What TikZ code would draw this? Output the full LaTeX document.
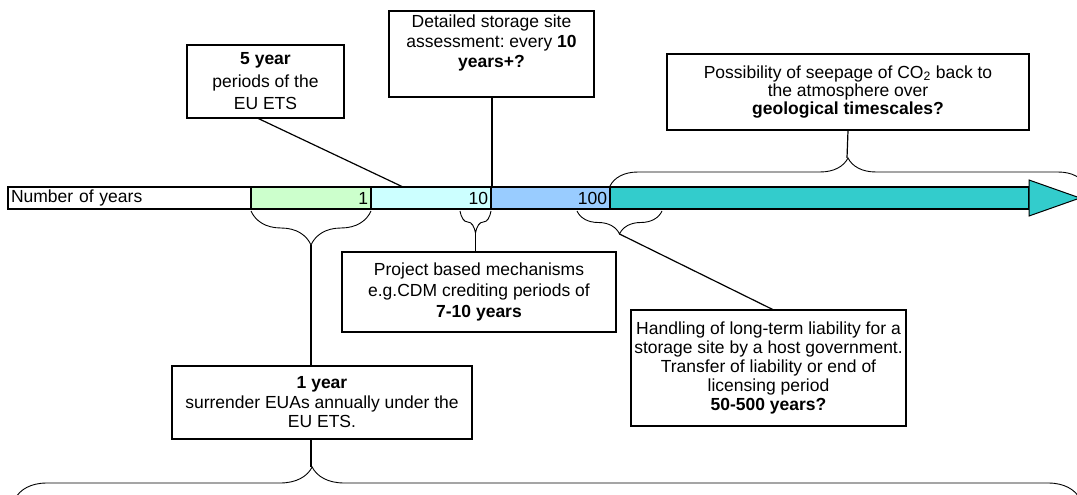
\documentclass[tikz,border=0pt]{standalone}
\usepackage{fontspec}
\setmainfont{Liberation Sans}
\usetikzlibrary{decorations.pathreplacing}
\definecolor{yrgreen}{HTML}{CCFFCC}
\definecolor{yrcyan}{HTML}{CCFFFF}
\definecolor{yrblue}{HTML}{99CCFF}
\definecolor{yrteal}{HTML}{33CCCC}
\frenchspacing
\begin{document}
\begin{tikzpicture}[
	x=1pt, y=-1pt,
	seg/.style={draw, line width=1.5pt, minimum height=22pt, inner xsep=3pt, inner ysep=0pt,
		outer sep=0pt, font=\fontsize{17.5}{20}\selectfont},
	note/.style={draw, line width=1.2pt, align=center, inner sep=2pt, fill=white,
		font=\fontsize{17.5}{#1}\selectfont},
	note/.default=20,
	link/.style={line width=1.2pt},
	brc/.style={decorate, decoration={brace, amplitude=#1}, line width=0.9pt}
	]
	\path[use as bounding box, clip] (0,0) rectangle (1077,495);
	% time bar
	\node [seg, fill=white, text width=237pt, align=left, minimum width=243pt] (yrs) at (129.5,198) {Number of years};
	\node [seg, fill=yrgreen, text width=114pt, align=right] (seg1) at (311,198) {1};
	\node [seg, fill=yrcyan, text width=114pt, align=right] (seg10) at (431,198) {10};
	\node [seg, fill=yrblue, text width=113pt, align=right] (seg100) at (550.5,198) {100};
	\node [seg, fill=yrteal, minimum width=419pt] (body) at (819.5,198) {};
	\coordinate (tip) at (1080,198);
	\draw [fill=yrteal, line width=1pt] ([yshift=7pt]body.north east) -- (tip) -- ([yshift=-7pt]body.south east) -- cycle;
	\draw [line width=2.5pt] (yrs.north west) -- (body.north east);
	\draw [line width=2.5pt] (yrs.south west) -- (body.south east);
	% braces
	\draw [brc=34] ([yshift=-2pt]seg1.south east) -- ([yshift=-2pt]seg1.south west);
	\draw [brc=22] ([yshift=-2pt]seg10.south east) -- ([xshift=89pt,yshift=-2pt]seg10.south west);
	\draw [brc=23] ([xshift=52pt,yshift=-2pt]body.south west) -- ([xshift=86pt,yshift=-2pt]seg100.south west);
	\coordinate (endG) at (1086,186);
	\draw [brc=28] ([yshift=1pt]body.north west) -- (endG);
	\coordinate (bigL) at (15,499);
	\coordinate (bigR) at (1080,499);
	\draw [decorate, decoration={brace, amplitude=32, aspect=0.279}, line width=0.9pt] (bigL) -- (bigR);
	\coordinate (tip1) at (311,245);
	\coordinate (tip10) at (475.5,233);
	\coordinate (tip100) at (619.5,234);
	\coordinate (tipG) at (847,158);
	\coordinate (tipB) at (311,467);
	% notes
	\node [note=22.5, minimum width=157pt, minimum height=73pt] (box5) at (265.5,81.5)
		{\textbf{5 year}\\ periods of the\\ EU ETS};
	\node [note, inner sep=4pt] (boxD) at (491.5,54)
		{\parbox[c][78pt][t]{197pt}{\centering Detailed storage site\\ assessment: every \textbf{10}\\ \textbf{years+?}}};
	\node [note=18.3, minimum width=362pt, minimum height=76pt] (boxG) at (848,92)
		{Possibility of seepage of CO\textsubscript{2} back to\\ the atmosphere over\\ \textbf{geological timescales?}};
	\node [note=21, minimum width=274pt, minimum height=80pt] (boxP) at (479,292)
		{Project based mechanisms\\ e.g.CDM crediting periods of\\ \textbf{7-10 years}};
	\node [note=18.8, minimum width=275pt, minimum height=116pt] (boxH) at (768.5,368)
		{Handling of long-term liability for a\\ storage site by a host government.\\ Transfer of liability or end of\\ licensing period\\ \textbf{50-500 years?}};
	\node [note=19.5, minimum width=300pt, minimum height=73pt] (box1) at (322,402.5)
		{\textbf{1 year}\\ surrender EUAs annually under the\\ EU ETS.};
	% connectors
	\draw [link] ([xshift=-7pt]box5.south) -- ([xshift=32pt]seg10.north west);
	\draw [link, line width=2pt] (boxD.south) -- (boxD.south |- seg10.north);
	\draw [link] (boxG.south) -- (tipG);
	\draw [link] (tip10) -- (tip10 |- boxP.north);
	\draw [link] (tip1) -- (tip1 |- box1.north);
	\draw [link] (tip1 |- box1.south) -- (tipB);
	\draw [link] (tip100) -- ([xshift=4pt]boxH.north);
\end{tikzpicture}
\end{document}
